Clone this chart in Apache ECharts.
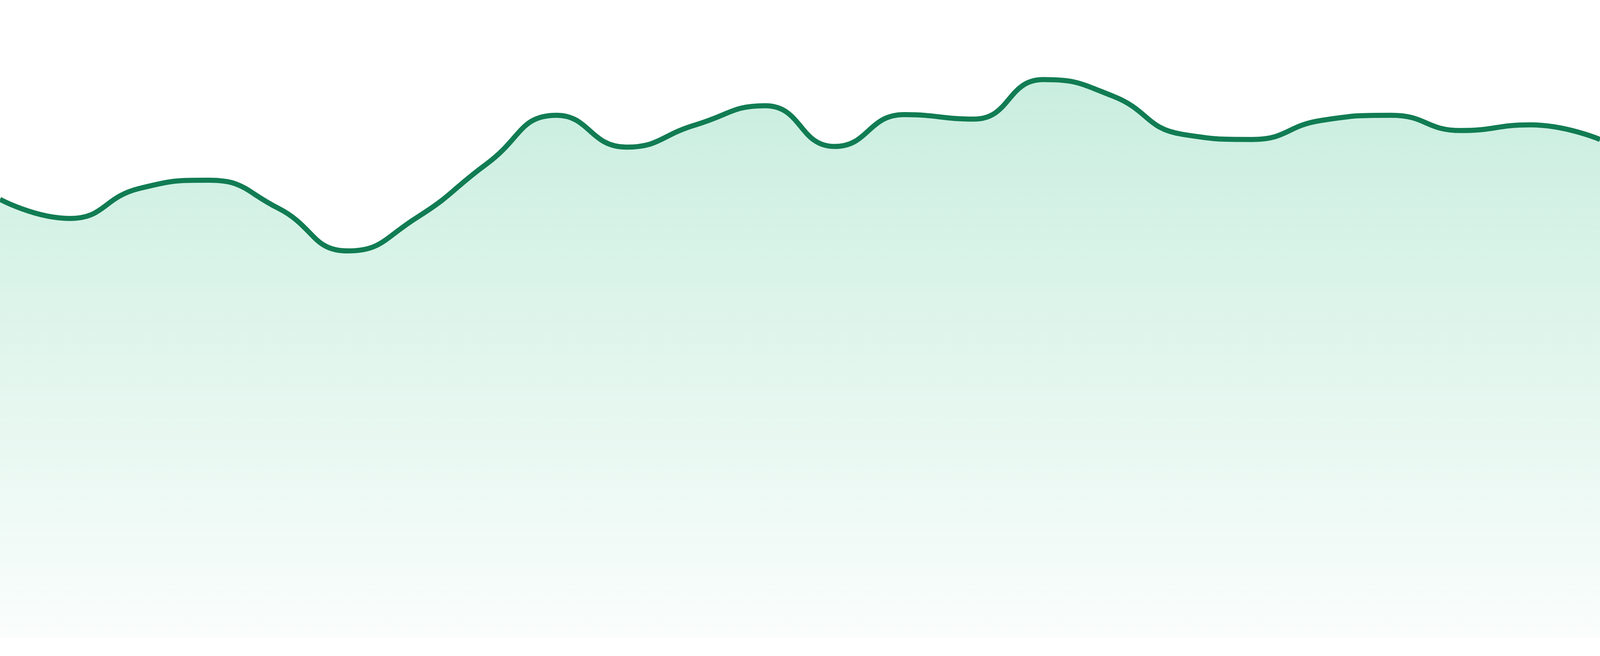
<!DOCTYPE html>
<html>
<head>
<meta charset="utf-8">
<title>trend</title>
<script src="https://cdn.jsdelivr.net/npm/echarts@6/dist/echarts.min.js"></script>
<style>
    html, body { margin: 0; padding: 0; width: 100%; height: 100%; overflow: hidden; background: #fff; }
    #box01 { width: 100%; height: 100%; }
</style>
</head>
<body>
<div id="box01"></div>
<script>
// 24 daily points
var days = ['1', '2', '3', '4', '5', '6', '7', '8', '9', '10', '11', '12',
            '13', '14', '15', '16', '17', '18', '19', '20', '21', '22', '23', '24'];
var values = [68.7, 65.7, 70.4, 71.7, 67.3, 60.6, 65.9, 74.3, 81.9, 76.9, 80.4, 83.4,
              77.0, 82.0, 81.3, 87.5, 84.9, 78.9, 78.1, 81.1, 81.9, 79.5, 80.4, 78.1];

var myChart = echarts.init(document.getElementById('box01'));

var option = {
    animation: false,
    grid: { left: 0, right: 0, top: 0, bottom: '2.92%' },
    xAxis: {
        type: 'category',
        boundaryGap: false,
        data: days,
        show: false
    },
    yAxis: {
        type: 'value',
        min: 0,
        max: 100,
        show: false
    },
    series: [
        {
            type: 'line',
            data: values,
            smooth: true,
            symbol: 'none',
            lineStyle: { color: '#117c53', width: 13 },
            areaStyle: {
                color: new echarts.graphic.LinearGradient(0, 0, 0, 1, [
                    { offset: 0, color: 'rgba(20,180,115,0.33)' },
                    { offset: 1, color: 'rgba(20,180,115,0.03)' }
                ])
            }
        }
    ]
};
myChart.setOption(option);
window.addEventListener('resize', function () { myChart.resize(); });
</script>
</body>
</html>
